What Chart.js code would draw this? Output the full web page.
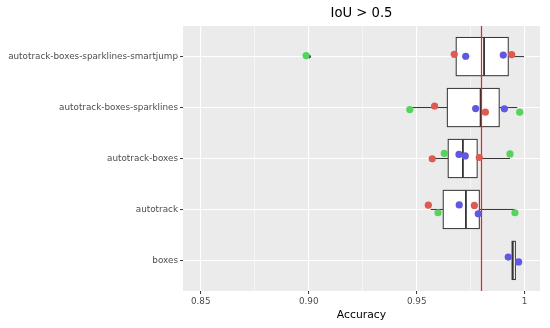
<!DOCTYPE html>
<html>
<head>
<meta charset="utf-8">
<script src="https://cdn.jsdelivr.net/npm/chart.js@4"></script>
<style>
  html, body { margin: 0; padding: 0; background: #fff; }
  #wrap { width: 550px; height: 328px; }
</style>
</head>
<body>
<div id="wrap"><canvas id="my-chart"></canvas></div>
<script>
// rows bottom to top (row 1 = boxes)
const categories = [
  'boxes',
  'autotrack',
  'autotrack-boxes',
  'autotrack-boxes-sparklines',
  'autotrack-boxes-sparklines-smartjump'
];
const xTicks = [0.85, 0.875, 0.9, 0.925, 0.95, 0.975, 1.0];

// box plot stats per row
const boxLow    = [0.9942, 0.9565, 0.9572, 0.9468, 0.9676];
const boxQ1     = [0.9942, 0.9623, 0.9646, 0.9642, 0.9683];
const boxMedian = [0.9945, 0.9728, 0.9714, 0.9796, 0.9812];
const boxQ3     = [0.9957, 0.9790, 0.9780, 0.9882, 0.9924];
const boxHigh   = [0.9957, 0.9955, 0.9932, 0.9966, 0.9997];
const outliers  = [[5, 0.9002]];

const refLine = 0.98;

// [row, accuracy, vertical jitter]
const redPoints = [
  [5, 0.9674, 0.045], [5, 0.9940, 0.04],
  [4, 0.9583, 0.03], [4, 0.9818, -0.09],
  [3, 0.9572, -0.006], [3, 0.9790, 0.02],
  [2, 0.9554, 0.085], [2, 0.9767, 0.08]
];
const greenPoints = [
  [5, 0.8988, 0.02],
  [4, 0.9468, -0.04], [4, 0.9977, -0.09],
  [3, 0.9628, 0.10], [3, 0.9932, 0.09],
  [2, 0.9599, -0.065], [2, 0.9955, -0.065]
];
const bluePoints = [
  [5, 0.9727, 0.006], [5, 0.9901, 0.03],
  [4, 0.9773, -0.02], [4, 0.9906, -0.026],
  [3, 0.9696, 0.08], [3, 0.9725, 0.05],
  [2, 0.9697, 0.09], [2, 0.9785, -0.085],
  [1, 0.9924, 0.065], [1, 0.9972, -0.03]
];

const toXY = pts => pts.map(p => ({ x: p[1], y: p[0] + p[2] }));
const isMajor = v => Math.round(v * 1000) % 50 === 0;
const tickFont = { family: 'DejaVu Sans', size: 8.8 };

const boxPlugin = {
  id: 'boxplot',
  beforeDraw(chart) {
    const { ctx, chartArea: a } = chart;
    ctx.save();
    ctx.fillStyle = '#ebebeb';
    ctx.fillRect(a.left, a.top, a.right - a.left, a.bottom - a.top);
    ctx.restore();
  },
  beforeDatasetsDraw(chart) {
    const { ctx, chartArea: a } = chart;
    const xs = chart.scales.x, ys = chart.scales.y;
    ctx.save();
    ctx.strokeStyle = '#333333';
    categories.forEach((c, i) => {
      const row = i + 1;
      const yc = ys.getPixelForValue(row);
      const yt = ys.getPixelForValue(row + 0.375);
      const yb = ys.getPixelForValue(row - 0.375);
      const lo = xs.getPixelForValue(boxLow[i]);
      const q1 = xs.getPixelForValue(boxQ1[i]);
      const md = xs.getPixelForValue(boxMedian[i]);
      const q3 = xs.getPixelForValue(boxQ3[i]);
      const hi = xs.getPixelForValue(boxHigh[i]);
      ctx.lineWidth = 1;
      ctx.beginPath();
      ctx.moveTo(lo, yc); ctx.lineTo(q1, yc);
      ctx.moveTo(q3, yc); ctx.lineTo(hi, yc);
      ctx.stroke();
      ctx.fillStyle = '#ffffff';
      ctx.fillRect(q1, yt, q3 - q1, yb - yt);
      ctx.strokeRect(q1, yt, q3 - q1, yb - yt);
      ctx.lineWidth = 1.8;
      ctx.beginPath();
      ctx.moveTo(md, yt); ctx.lineTo(md, yb);
      ctx.stroke();
    });
    const rx = Math.round(xs.getPixelForValue(refLine)) + 0.5;
    ctx.strokeStyle = '#ff1a10';
    ctx.lineWidth = 1.2;
    ctx.beginPath();
    ctx.moveTo(rx, a.top); ctx.lineTo(rx, a.bottom);
    ctx.stroke();
    ctx.restore();
  }
};

const ctx = document.getElementById('my-chart').getContext('2d');
const chart = new Chart(ctx, {
  type: 'scatter',
  data: {
    datasets: [
      { label: 'red', data: toXY(redPoints), backgroundColor: '#df5a50' },
      { label: 'blue', data: toXY(bluePoints), backgroundColor: '#6157e0' },
      { label: 'green', data: toXY(greenPoints), backgroundColor: '#55d35c' },
      { label: 'outlier', data: toXY(outliers.map(o => [o[0], o[1], 0])), backgroundColor: '#333333', pointRadius: 1.8 }
    ]
  },
  options: {
    responsive: true,
    maintainAspectRatio: false,
    animation: false,
    events: [],
    layout: { padding: { right: 10 } },
    elements: { point: { radius: 3.6, borderWidth: 0, hoverRadius: 3.6 } },
    plugins: {
      legend: { display: false },
      tooltip: { enabled: false }
    },
    scales: {
      x: {
        type: 'linear',
        min: 0.8418,
        max: 1.0071,
        afterBuildTicks: s => { s.ticks = xTicks.map(v => ({ value: v })); },
        afterFit: s => { s.height = 37; },
        border: { display: false },
        grid: {
          color: '#ffffff',
          lineWidth: c => isMajor(c.tick.value) ? 1.1 : 0.55,
          tickLength: 3,
          tickWidth: 1,
          tickColor: c => isMajor(c.tick.value) ? '#333333' : 'rgba(0,0,0,0)'
        },
        ticks: {
          autoSkip: false,
          maxRotation: 0,
          padding: 2,
          color: '#4d4d4d',
          font: tickFont,
          callback: v => isMajor(v) ? (v === 1 ? '1' : v.toFixed(2)) : ''
        },
        title: {
          display: true,
          text: 'Accuracy',
          color: '#000000',
          font: { family: 'DejaVu Sans', size: 10.8 },
          padding: { top: 0, bottom: 6 }
        }
      },
      top: {
        type: 'linear',
        position: 'top',
        axis: 'x',
        min: 0.8418,
        max: 1.0071,
        afterFit: s => { s.height = 26; },
        border: { display: false },
        grid: { display: false, drawTicks: false },
        ticks: { display: false },
        title: {
          display: true,
          text: 'IoU > 0.5',
          color: '#000000',
          font: { family: 'DejaVu Sans', size: 13.2 },
          padding: { top: 6, bottom: 0 }
        }
      },
      y: {
        type: 'linear',
        min: 0.4,
        max: 5.6,
        afterBuildTicks: s => { s.ticks = categories.map((c, i) => ({ value: i + 1 })); },
        afterFit: s => { s.width = 183; },
        border: { display: false },
        grid: {
          color: '#ffffff',
          lineWidth: 1.1,
          tickLength: 3,
          tickWidth: 1,
          tickColor: '#333333'
        },
        ticks: {
          padding: 2,
          color: '#4d4d4d',
          font: tickFont,
          callback: v => categories[v - 1]
        }
      }
    }
  },
  plugins: [boxPlugin]
});
</script>
</body>
</html>
